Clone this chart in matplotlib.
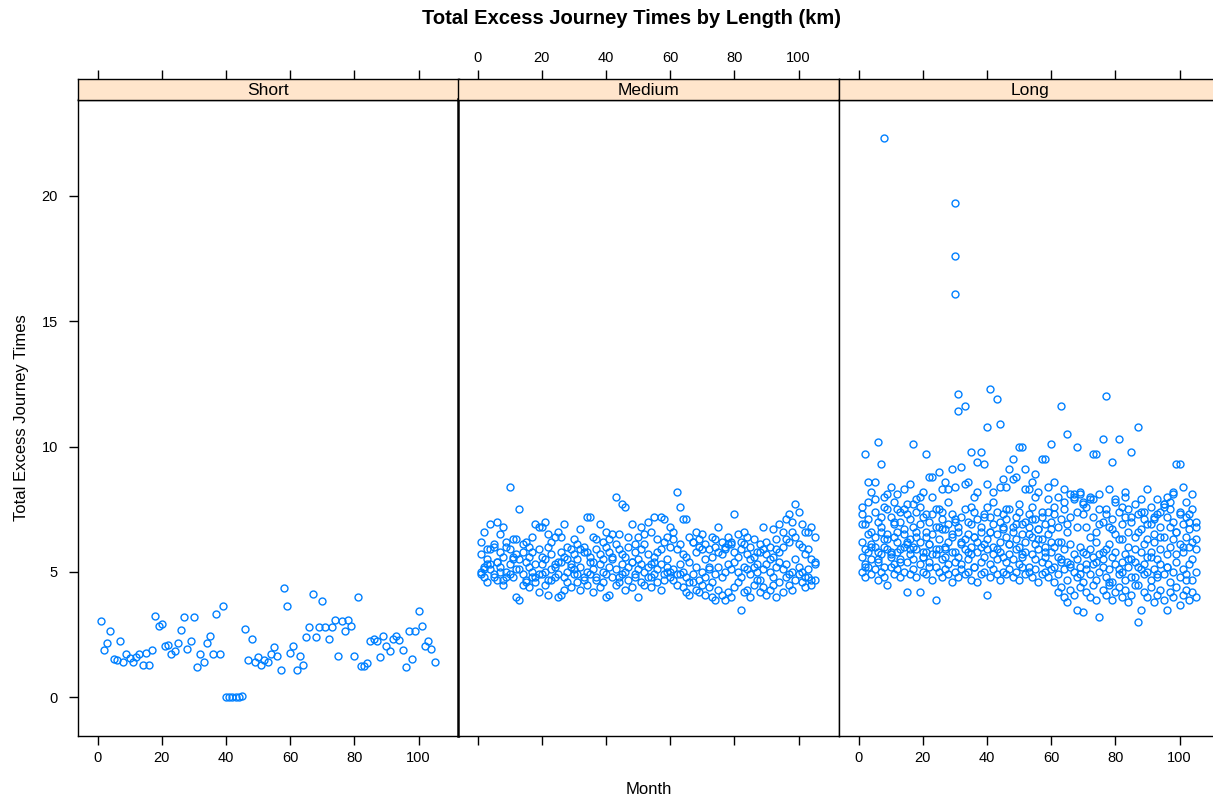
import matplotlib.pyplot as plt

plt.rcParams['font.family'] = ['Liberation Sans', 'DejaVu Sans']

# months 1..105
month = list(range(1, 106))

short_y = [3.03, 1.88, 2.17, 2.63, 1.55, 1.49, 2.23, 1.41, 1.71, 1.56, 1.41, 1.60, 1.73, 1.31, 1.77,
           1.31, 1.88, 3.25, 2.85, 2.91, 2.05, 2.10, 1.71, 1.83, 2.16, 2.68, 3.20, 1.93, 2.23, 3.20,
           1.20, 1.71, 1.43, 2.16, 2.45, 1.71, 3.31, 1.71, 3.65, 0.0, 0.0, 0.0, 0.0, 0.0, 0.05,
           2.73, 1.48, 2.33, 1.43, 1.60, 1.31, 1.48, 1.43, 1.71, 2.00, 1.65, 1.08, 4.35, 3.65, 1.77,
           2.05, 1.08, 1.65, 1.31, 2.40, 2.80, 4.12, 2.40, 2.80, 3.83, 2.80, 2.33, 2.80, 3.08, 1.65,
           3.03, 2.63, 3.08, 2.85, 1.65, 4.00, 1.25, 1.25, 1.36, 2.23, 2.33, 2.23, 1.60, 2.45, 2.05,
           1.83, 2.33, 2.45, 2.28, 1.88, 1.20, 2.63, 1.55, 2.63, 3.43, 2.85, 2.05, 2.23, 1.93, 1.43]

med_a = [6.2, 6.6, 5.9, 6.9, 6.1, 7.0, 6.5, 6.8, 6.0, 8.4, 6.3, 6.3, 7.5, 5.8, 6.2,
         6.0, 6.4, 6.9, 6.8, 6.8, 7.0, 6.5, 6.2, 6.4, 6.6, 6.4, 6.9, 6.0, 5.9, 6.3,
         6.1, 6.7, 5.8, 7.2, 7.2, 6.4, 6.3, 6.9, 6.2, 6.6, 6.3, 6.5, 8.0, 6.5, 7.7,
         7.6, 6.4, 6.9, 6.1, 6.4, 6.8, 6.5, 7.0, 6.6, 7.2, 6.3, 7.2, 7.1, 6.4, 6.8,
         6.6, 8.2, 7.6, 7.1, 7.1, 6.4, 6.2, 6.6, 6.0, 6.5, 6.1, 5.9, 6.4, 6.3, 6.8,
         6.2, 6.0, 6.4, 6.1, 7.3, 6.5, 6.2, 6.6, 6.4, 6.0, 6.3, 5.8, 6.1, 6.8, 6.2,
         6.0, 6.7, 6.3, 6.9, 6.6, 7.1, 7.3, 7.0, 7.7, 7.4, 6.9, 6.6, 6.6, 6.8, 6.4]
med_b = [5.7, 5.2, 5.5, 5.9, 6.0, 5.4, 5.8, 5.6, 6.2, 5.9, 5.5, 5.7, 5.1, 6.1, 5.4,
         5.6, 5.8, 5.3, 5.9, 5.6, 5.5, 6.0, 5.7, 5.3, 5.4, 5.8, 5.6, 5.5, 5.2, 5.7,
         5.5, 5.9, 6.0, 5.8, 5.6, 5.4, 5.9, 5.7, 5.5, 6.0, 5.8, 5.6, 6.1, 5.9, 5.7,
         5.6, 6.0, 5.4, 5.8, 5.5, 5.9, 6.1, 5.7, 5.3, 5.6, 5.8, 5.9, 6.2, 5.5, 6.0,
         6.3, 5.9, 6.1, 5.7, 5.6, 5.4, 6.2, 5.8, 6.3, 5.9, 5.5, 5.2, 5.6, 6.0, 5.8,
         5.7, 5.9, 6.1, 6.2, 5.8, 5.6, 5.9, 6.1, 5.7, 5.5, 5.6, 5.3, 5.8, 5.9, 5.7,
         5.5, 5.6, 5.9, 5.8, 6.0, 6.3, 6.2, 6.6, 6.4, 6.1, 6.0, 5.7, 5.9, 5.5, 5.3]
med_c = [5.0, 4.8, 5.3, 5.1, 4.9, 5.4, 5.2, 4.7, 5.0, 5.3, 4.8, 5.1, 5.5, 4.9, 4.7,
         5.2, 5.0, 4.8, 4.9, 5.3, 5.0, 4.7, 5.1, 5.2, 4.9, 5.4, 4.8, 5.0, 5.3, 5.1,
         4.9, 5.2, 4.7, 5.0, 5.4, 5.1, 4.8, 5.3, 5.0, 4.9, 5.2, 5.5, 5.1, 4.8, 5.3,
         5.0, 5.2, 5.4, 4.9, 5.1, 5.3, 5.0, 5.2, 4.8, 5.4, 5.1, 5.3, 4.9, 5.2, 5.0,
         5.1, 4.9, 5.3, 5.0, 4.8, 4.6, 4.9, 5.2, 4.7, 5.0, 4.8, 5.1, 4.6, 4.9, 5.2,
         4.8, 5.0, 5.3, 5.1, 5.4, 5.0, 4.8, 5.2, 5.1, 4.9, 5.2, 5.0, 4.7, 5.1, 5.3,
         5.0, 4.8, 5.2, 5.4, 5.1, 5.3, 4.9, 5.0, 5.5, 5.2, 5.0, 4.8, 5.1, 4.7, 5.4]
med_d = [4.9, 5.1, 4.6, 5.3, 4.8, 4.7, 5.0, 4.5, 4.8, 4.9, 5.6, 4.0, 3.9, 4.5, 4.6,
         4.4, 4.8, 4.6, 4.2, 4.9, 4.5, 4.1, 4.7, 4.8, 4.0, 4.1, 4.3, 4.6, 4.4, 4.9,
         4.6, 4.3, 4.8, 4.5, 4.9, 4.2, 4.7, 4.4, 4.6, 4.0, 4.1, 4.8, 4.5, 4.6, 4.9,
         4.3, 4.7, 4.4, 4.8, 4.0, 4.6, 4.5, 4.8, 4.4, 4.9, 4.6, 4.3, 4.7, 5.0, 4.8,
         4.7, 4.5, 4.9, 4.4, 4.2, 4.1, 4.6, 4.3, 4.2, 4.5, 4.1, 4.4, 4.0, 3.9, 4.3,
         4.1, 3.9, 4.2, 4.0, 4.4, 4.6, 3.5, 4.2, 4.3, 4.0, 4.5, 4.7, 4.2, 4.4, 4.1,
         4.3, 4.5, 4.0, 4.6, 4.2, 4.8, 4.5, 4.3, 4.7, 4.9, 4.6, 4.4, 4.8, 4.5, 4.7]

long_a = [7.6, 9.7, 8.6, 8.2, 7.9, 10.2, 9.3, 8.0, 7.5, 8.4, 7.8, 8.1, 7.4, 8.3, 7.7,
          8.5, 10.1, 7.9, 7.6, 8.2, 9.7, 8.8, 8.0, 7.5, 9.0, 8.3, 8.6, 7.8, 9.1, 8.4,
          12.1, 9.2, 11.6, 8.6, 9.8, 8.0, 9.4, 9.8, 9.3, 8.5, 12.3, 8.2, 11.9, 10.9, 8.7,
          8.4, 9.1, 9.5, 8.8, 10.0, 10.0, 9.1, 8.3, 8.6, 8.9, 8.2, 9.5, 9.5, 8.4, 10.1,
          8.6, 8.0, 11.6, 8.3, 10.5, 8.1, 7.9, 10.0, 8.2, 7.8, 7.6, 8.0, 9.7, 9.7, 8.1,
          10.3, 12.0, 8.3, 9.4, 7.9, 10.3, 7.6, 8.2, 7.5, 9.8, 7.7, 10.8, 7.9, 7.4, 8.3,
          7.6, 7.2, 7.9, 7.4, 7.7, 8.0, 7.5, 8.2, 9.3, 9.3, 8.4, 7.8, 7.3, 8.1, 7.0]
long_b = [7.3, 6.9, 7.1, 6.6, 7.4, 7.0, 6.8, 7.6, 6.5, 7.2, 6.9, 7.5, 7.0, 6.7, 7.3,
          7.1, 6.8, 7.4, 6.9, 7.2, 6.6, 7.0, 7.3, 6.8, 7.5, 7.1, 6.7, 6.9, 7.3, 7.0,
          6.8, 7.2, 7.5, 7.0, 6.9, 7.4, 7.1, 6.6, 7.3, 7.6, 7.2, 6.9, 7.4, 7.0, 7.3,
          7.1, 7.5, 6.8, 7.2, 7.4, 6.9, 7.0, 7.3, 7.6, 7.1, 6.7, 7.2, 6.9, 7.4, 7.0,
          7.3, 6.8, 7.1, 7.5, 6.9, 7.2, 8.0, 7.4, 8.1, 7.7, 6.8, 7.9, 7.2, 6.6, 7.5,
          7.0, 7.3, 6.8, 7.1, 6.5, 7.4, 6.9, 7.2, 6.6, 7.0, 6.4, 7.3, 6.7, 7.1, 6.3,
          6.9, 6.5, 7.3, 6.8, 7.6, 7.2, 7.8, 7.0, 6.6, 7.4, 6.9, 7.2, 6.7, 7.5, 6.8]
long_c = [6.2, 5.9, 6.5, 6.1, 6.4, 5.8, 6.6, 6.0, 6.3, 5.7, 6.4, 6.2, 5.9, 6.5, 6.1,
          6.3, 6.0, 6.6, 6.2, 5.8, 6.4, 6.1, 6.5, 5.9, 6.3, 6.7, 6.0, 6.2, 6.4, 5.8,
          6.6, 6.1, 6.3, 6.5, 6.0, 6.4, 6.2, 6.8, 6.1, 6.3, 6.6, 6.0, 6.5, 6.2, 6.7,
          6.4, 6.1, 6.6, 6.3, 6.0, 6.5, 6.2, 6.8, 6.4, 6.1, 6.7, 6.3, 6.0, 6.5, 6.2,
          6.0, 5.6, 6.2, 5.9, 5.4, 6.1, 5.7, 5.5, 6.0, 5.8, 5.3, 5.9, 5.6, 6.2, 5.7,
          5.5, 5.9, 6.1, 5.6, 5.8, 6.3, 5.4, 5.7, 6.0, 5.5, 5.9, 5.2, 5.8, 6.1, 5.6,
          5.8, 6.2, 5.5, 5.9, 6.4, 5.7, 6.0, 6.3, 6.6, 6.1, 5.8, 6.4, 6.0, 6.2, 5.9]
long_d = [5.6, 5.3, 5.8, 5.5, 6.0, 5.4, 5.7, 5.2, 5.9, 5.6, 5.3, 5.8, 5.5, 6.0, 5.4,
          5.7, 5.5, 5.9, 5.3, 5.6, 5.8, 5.4, 5.7, 5.2, 5.9, 5.5, 5.6, 5.3, 5.8, 5.4,
          5.6, 5.3, 5.9, 5.5, 5.7, 5.2, 5.8, 5.4, 5.6, 5.9, 5.3, 5.7, 5.5, 5.8, 5.6,
          5.4, 5.7, 5.5, 5.9, 5.3, 5.6, 5.8, 5.2, 5.7, 5.5, 5.9, 5.4, 5.6, 5.3, 5.8,
          5.2, 4.9, 5.4, 5.1, 4.7, 5.3, 5.0, 4.8, 5.2, 4.6, 5.1, 4.9, 5.3, 4.7, 5.0,
          5.2, 4.8, 5.1, 4.6, 5.3, 4.9, 5.0, 4.7, 5.2, 4.8, 5.4, 4.5, 5.1, 4.9, 5.0,
          4.7, 5.1, 4.8, 5.3, 4.9, 5.2, 4.6, 5.0, 5.4, 4.8, 5.1, 4.9, 5.3, 4.7, 5.0]
long_e = [5.0, 4.8, 5.2, 4.9, 5.1, 4.7, 5.0, 4.8, 4.5, 5.2, 4.9, 5.1, 4.8, 5.0, 4.2,
          4.9, 5.1, 4.8, 4.2, 5.0, 4.9, 5.2, 4.7, 3.9, 5.0, 4.8, 5.1, 4.9, 4.6, 5.0,
          4.8, 5.1, 4.9, 5.0, 4.7, 5.2, 4.6, 4.9, 5.0, 4.1, 4.8, 5.1, 4.9, 4.7, 5.0,
          4.9, 5.1, 4.8, 5.0, 4.7, 5.2, 4.9, 5.0, 4.8, 5.1, 4.6, 4.9, 5.0, 4.8, 5.1,
          4.6, 4.2, 4.4, 4.0, 3.8, 4.3, 4.1, 3.5, 4.4, 3.4, 4.2, 4.0, 4.5, 3.9, 3.2,
          4.3, 4.1, 4.5, 3.9, 4.2, 4.4, 4.0, 4.3, 3.8, 4.1, 4.5, 3.0, 3.5, 4.2, 4.0,
          4.4, 3.8, 4.1, 4.3, 3.9, 3.5, 4.2, 4.0, 4.4, 3.7, 4.1, 4.3, 3.9, 4.2, 4.0]
long_f = [6.9, 5.2, 7.8, 6.0, 8.6, 5.5, 7.2, 6.3, 8.1, 5.8, 7.0, 6.6, 5.4, 7.5, 6.2,
          5.9, 7.7, 6.4, 8.0, 5.6, 7.3, 6.1, 8.8, 5.7, 6.8, 7.4, 5.9, 8.3, 6.5, 7.1,
          11.4, 6.2, 8.5, 5.8, 7.6, 6.4, 8.2, 6.0, 7.2, 10.8, 6.6, 7.8, 5.9, 8.4, 6.8,
          7.5, 6.1, 8.7, 6.9, 7.7, 5.7, 8.3, 6.5, 7.1, 8.0, 6.3, 7.4, 5.8, 7.9, 6.7,
          7.6, 6.2, 5.5, 7.8, 6.6, 5.2, 8.1, 6.8, 4.9, 7.3, 5.7, 6.4, 7.9, 5.4, 6.9,
          5.8, 7.5, 4.6, 6.7, 7.8, 5.1, 6.3, 8.0, 5.5, 7.2, 4.8, 6.6, 7.4, 5.3, 6.9,
          5.6, 7.1, 4.9, 6.4, 7.7, 5.2, 6.8, 8.1, 5.7, 7.3, 6.0, 4.7, 7.0, 5.5, 6.3]
long_out_month = [8, 30, 30, 30]
long_out_y = [22.3, 19.7, 17.6, 16.1]

panels = ['Short', 'Medium', 'Long']
panel_series = {
    'Short': [(month, short_y)],
    'Medium': [(month, med_a), (month, med_b), (month, med_c), (month, med_d)],
    'Long': [(month, long_a), (month, long_b), (month, long_c), (month, long_d),
             (month, long_e), (month, long_f), (long_out_month, long_out_y)],
}

W, H = 1213, 797
fig = plt.figure(figsize=(W / 100, H / 100), dpi=100)

lefts = [78, 458, 839]
pw = 381
ybot, ytop, stop = 736, 99.5, 79.3
xlim = (-6.1, 112.6)
ylim = (-1.54, 23.84)
xt = [0, 20, 40, 60, 80, 100]
col = '#0080ff'

for i, name in enumerate(panels):
    ax = fig.add_axes([lefts[i] / W, 1 - ybot / H, pw / W, (ybot - ytop) / H])
    for xs, ys in panel_series[name]:
        ax.plot(xs, ys, 'o', mfc='none', mec=col, ms=5, mew=1.0)
    ax.set_xlim(*xlim)
    ax.set_ylim(*ylim)
    ax.set_xticks(xt)
    ax.tick_params(axis='x', direction='out', length=6.5, width=1, labelsize=10.5, pad=4)
    if i != 1:
        ax.set_xticklabels([str(v) for v in xt])
    else:
        ax.set_xticklabels([])
    if i == 0:
        ax.set_yticks([0, 5, 10, 15, 20])
        ax.tick_params(axis='y', direction='out', length=6.5, width=1, labelsize=10.5, pad=8)
    else:
        ax.set_yticks([])
    for sp in ax.spines.values():
        sp.set_linewidth(1.0)
    if i == 1:
        ax.spines['left'].set_linewidth(1.8)

    # strip on top
    st = fig.add_axes([lefts[i] / W, 1 - ytop / H, pw / W, (ytop - stop) / H])
    st.set_facecolor('#ffe5cc')
    st.set_xlim(*xlim)
    st.set_ylim(0, 1)
    st.set_yticks([])
    st.set_xticks(xt)
    st.xaxis.tick_top()
    st.tick_params(axis='x', direction='out', length=6.5, width=1, labelsize=10.5, pad=4)
    if i == 1:
        st.set_xticklabels([str(v) for v in xt])
    else:
        st.set_xticklabels([])
    st.text(0.5, 0.45, name, transform=st.transAxes, ha='center', va='center', fontsize=12.5)
    for sp in st.spines.values():
        sp.set_linewidth(1.0)

fig.text(632 / W, 1 - 19 / H, 'Total Excess Journey Times by Length (km)',
         ha='center', va='center', fontsize=14.5, fontweight='bold')
fig.text(649 / W, 1 - 789 / H, 'Month', ha='center', va='center', fontsize=12)
fig.text(22 / W, 1 - 418 / H, 'Total Excess Journey Times', ha='center', va='center',
         rotation=90, fontsize=12)

fig.savefig('out.png', dpi=100)
